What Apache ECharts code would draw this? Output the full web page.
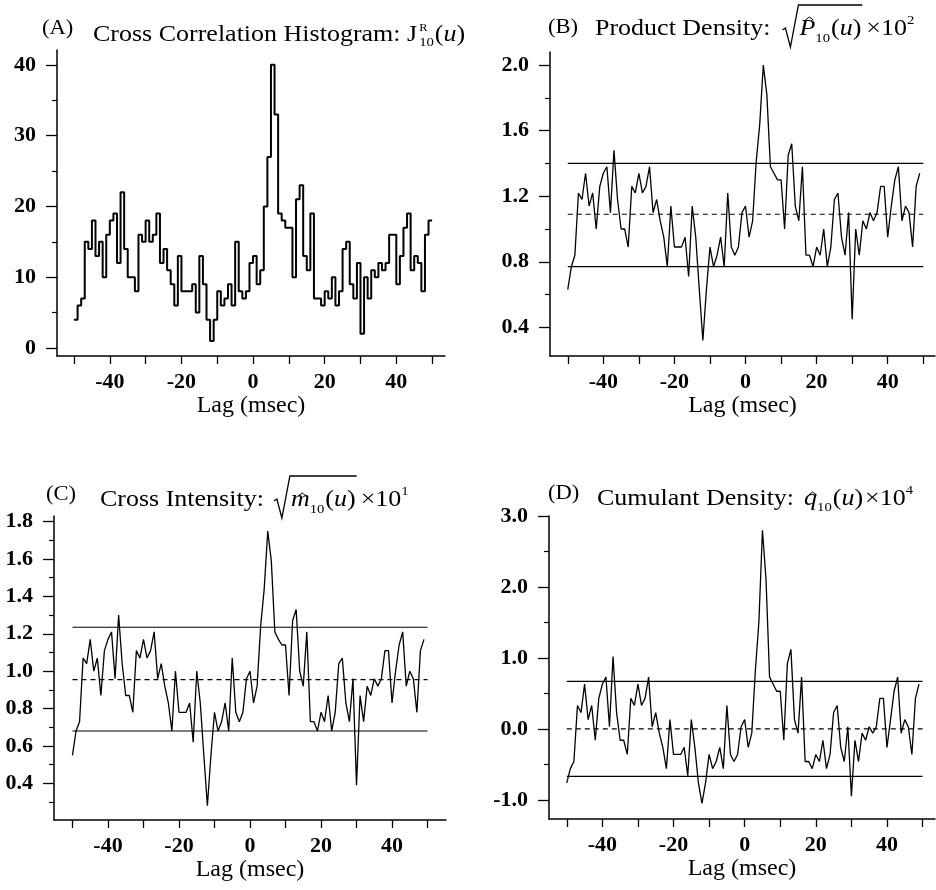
<!DOCTYPE html>
<html>
<head>
<meta charset="utf-8">
<title>Cross correlation panels</title>
<script src="https://cdn.jsdelivr.net/npm/echarts@6/dist/echarts.min.js"></script>
<style>
  html, body { margin: 0; padding: 0; background: #fff; }
  #chart { width: 936px; height: 890px; }
</style>
</head>
<body>
<div id="chart"></div>
<script>
// lag (msec) of each 1 msec bin
var lags = [
  -50,-49,-48,-47,-46,-45,-44,-43,-42,-41,
  -40,-39,-38,-37,-36,-35,-34,-33,-32,-31,
  -30,-29,-28,-27,-26,-25,-24,-23,-22,-21,
  -20,-19,-18,-17,-16,-15,-14,-13,-12,-11,
  -10,-9,-8,-7,-6,-5,-4,-3,-2,-1,
  0,1,2,3,4,5,6,7,8,9,
  10,11,12,13,14,15,16,17,18,19,
  20,21,22,23,24,25,26,27,28,29,
  30,31,32,33,34,35,36,37,38,39,
  40,41,42,43,44,45,46,47,48,49
];

// (A) cross correlation histogram counts
var histCounts = [
  4,6,7,15,14,18,13,15,10,16,
  18,19,12,22,14,10,10,8,16,15,
  18,15,16,19,12,14,11,9,6,13,
  8,8,8,9,5,13,9,4,1,4,
  8,6,7,9,6,15,8,7,8,12,
  13,9,11,20,27,40,33,19,18,17,
  17,10,21,23,13,11,19,7,7,6,
  8,7,10,6,8,14,15,9,7,12,
  2,10,7,11,10,12,11,12,16,16,
  9,13,17,19,11,13,12,8,16,18
];

// (B) product density, sqrt, x10^2
var productDensity = [
  0.63,0.77,0.84,1.22,1.18,1.34,1.14,1.22,1.00,1.26,
  1.34,1.38,1.10,1.48,1.18,1.00,1.00,0.89,1.26,1.22,
  1.34,1.22,1.26,1.38,1.10,1.18,1.05,0.95,0.77,1.14,
  0.89,0.89,0.89,0.95,0.71,1.14,0.95,0.63,0.32,0.63,
  0.89,0.77,0.84,0.95,0.77,1.22,0.89,0.84,0.89,1.10,
  1.14,0.95,1.05,1.41,1.64,2.00,1.82,1.38,1.34,1.30,
  1.30,1.00,1.45,1.52,1.14,1.05,1.38,0.84,0.84,0.77,
  0.89,0.84,1.00,0.77,0.89,1.18,1.22,0.95,0.84,1.10,
  0.45,1.00,0.84,1.05,1.00,1.10,1.05,1.10,1.26,1.26,
  0.95,1.14,1.30,1.38,1.05,1.14,1.10,0.89,1.26,1.34
];

// (C) cross intensity, sqrt, x10
var crossIntensity = [
  0.55,0.68,0.73,1.07,1.04,1.17,1.00,1.07,0.87,1.11,
  1.17,1.21,0.96,1.30,1.04,0.87,0.87,0.78,1.11,1.07,
  1.17,1.07,1.11,1.21,0.96,1.04,0.92,0.83,0.68,1.00,
  0.78,0.78,0.78,0.83,0.62,1.00,0.83,0.55,0.28,0.55,
  0.78,0.68,0.73,0.83,0.68,1.07,0.78,0.73,0.78,0.96,
  1.00,0.83,0.92,1.24,1.44,1.75,1.59,1.21,1.17,1.14,
  1.14,0.87,1.27,1.33,1.00,0.92,1.21,0.73,0.73,0.68,
  0.78,0.73,0.87,0.68,0.78,1.04,1.07,0.83,0.73,0.96,
  0.39,0.87,0.73,0.92,0.87,0.96,0.92,0.96,1.11,1.11,
  0.83,1.00,1.14,1.21,0.92,1.00,0.96,0.78,1.11,1.17
];

// (D) cumulant density, x10^4
var cumulantDensity = [
  -0.76,-0.56,-0.46,0.33,0.23,0.63,0.13,0.33,-0.16,0.43,
  0.63,0.73,0.03,1.02,0.23,-0.16,-0.16,-0.36,0.43,0.33,
  0.63,0.33,0.43,0.73,0.03,0.23,-0.06,-0.26,-0.56,0.13,
  -0.36,-0.36,-0.36,-0.26,-0.66,0.13,-0.26,-0.76,-1.05,-0.76,
  -0.36,-0.56,-0.46,-0.26,-0.56,0.33,-0.36,-0.46,-0.36,0.03,
  0.13,-0.26,-0.06,0.82,1.51,2.80,2.11,0.73,0.63,0.53,
  0.53,-0.16,0.92,1.12,0.13,-0.06,0.73,-0.46,-0.46,-0.56,
  -0.36,-0.46,-0.16,-0.56,-0.36,0.23,0.33,-0.26,-0.46,0.03,
  -0.95,-0.16,-0.46,-0.06,-0.16,0.03,-0.06,0.03,0.43,0.43,
  -0.26,0.13,0.53,0.73,-0.06,0.13,0.03,-0.36,0.43,0.63
];

// confidence bands: upper, mean (dashed), lower
var productLevels = [1.40, 1.09, 0.77];
var intensityLevels = [1.235, 0.955, 0.68];
var cumulantLevels = [0.67, 0.0, -0.67];
var levelSpan = [-50, 50];

// ticks and labels
var xTicks = [-50,-40,-30,-20,-10,0,10,20,30,40,50];
var xLabels = [-40,-20,0,20,40];
var yLabelsA = [0,10,20,30,40];
var yMinorA = [5,15,25,35];
var yLabelsB = [0.4,0.8,1.2,1.6,2.0];
var yMinorB = [0.6,1.0,1.4,1.8];
var yLabelsC = [0.4,0.6,0.8,1.0,1.2,1.4,1.6,1.8];
var yMinorC = [0.3,0.5,0.7,0.9,1.1,1.3,1.5,1.7];
var yLabelsD = [-1.0,0.0,1.0,2.0,3.0];
var yMinorD = [-0.5,0.5,1.5,2.5];

var SERIF = '"Liberation Serif", "Times New Roman", serif';
var SX = 1.13;

var panels = [
  {grid: {left: 57, top: 50, width: 388, height: 306}, x: [-54.75, 53.6], y: [-1.13, 42.1],
   labels: yLabelsA, minor: yMinorA, dec: 0},
  {grid: {left: 550, top: 52, width: 385, height: 304}, x: [-55, 53.3], y: [0.225, 2.08],
   labels: yLabelsB, minor: yMinorB, dec: 1},
  {grid: {left: 54, top: 516, width: 392, height: 304}, x: [-55.2, 55.2], y: [0.204, 1.83],
   labels: yLabelsC, minor: yMinorC, dec: 1},
  {grid: {left: 549, top: 516, width: 386, height: 303}, x: [-55, 53.5], y: [-1.27, 3.0],
   labels: yLabelsD, minor: yMinorD, dec: 1}
];

var grids = [], xAxes = [], yAxes = [];
panels.forEach(function (p, i) {
  grids.push(p.grid);
  xAxes.push({
    type: 'value', gridIndex: i, min: p.x[0], max: p.x[1],
    axisLine: {onZero: false, lineStyle: {color: '#000', width: 1.5}},
    axisTick: {customValues: xTicks, length: 8, lineStyle: {color: '#000', width: 1.3}},
    axisLabel: {customValues: xLabels, margin: 15, color: '#000', fontFamily: SERIF, fontSize: 22, fontWeight: 'bold'},
    splitLine: {show: false},
    name: 'Lag (msec)', nameLocation: 'middle', nameGap: 38,
    nameTextStyle: {color: '#000', fontFamily: SERIF, fontSize: 24}
  });
  yAxes.push({
    type: 'value', gridIndex: i, position: 'left', min: p.y[0], max: p.y[1],
    axisLine: {show: true, onZero: false, lineStyle: {color: '#000', width: 1.5}},
    axisTick: {show: true, customValues: p.labels, length: 11, lineStyle: {color: '#000', width: 1.3}},
    axisLabel: {customValues: p.labels, margin: 21, color: '#000', fontFamily: SERIF, fontSize: 22, fontWeight: 'bold',
      formatter: function (v) { return v.toFixed(p.dec); }},
    splitLine: {show: false}
  });
  yAxes.push({
    type: 'value', gridIndex: i, position: 'left', min: p.y[0], max: p.y[1],
    axisLine: {show: false, onZero: false},
    axisTick: {show: true, customValues: p.minor, length: 5, lineStyle: {color: '#000', width: 1.2}},
    axisLabel: {show: false},
    splitLine: {show: false}
  });
});

function pairs(xs, ys) {
  return xs.map(function (x, i) { return [x, ys[i]]; });
}

// histogram outline: each bin drawn from its lag to the next
var histData = pairs(lags, histCounts);
histData.push([lags[lags.length - 1] + 1, histCounts[histCounts.length - 1]]);

var series = [{
  type: 'line', xAxisIndex: 0, yAxisIndex: 0, step: 'end', data: histData,
  showSymbol: false, lineStyle: {color: '#000', width: 2}
}];

function curve(i, values) {
  series.push({
    type: 'line', xAxisIndex: i, yAxisIndex: 2 * i, data: pairs(lags, values),
    showSymbol: false, lineStyle: {color: '#000', width: 1.3}
  });
}
function bands(i, levels) {
  levels.forEach(function (v, k) {
    series.push({
      type: 'line', xAxisIndex: i, yAxisIndex: 2 * i, showSymbol: false,
      data: [[levelSpan[0], v], [levelSpan[1], v]],
      lineStyle: {color: '#000', width: 1.2, type: k === 1 ? [5, 4] : 'solid'}
    });
  });
}
curve(1, productDensity); bands(1, productLevels);
curve(2, crossIntensity); bands(2, intensityLevels);
curve(3, cumulantDensity); bands(3, cumulantLevels);

// ---- titles (text pieces laid out left to right) ----
var ctx = document.createElement('canvas').getContext('2d');
function fontStr(p) { return (p.it ? 'italic ' : '') + p.s + 'px ' + SERIF; }

function titleRow(x0, base, parts) {
  var els = [], x = x0, sq = null;
  parts.forEach(function (p) {
    x += (p.g || 0);
    if (p.sqrt === 'open') { sq = x; x += 17; return; }
    if (p.sqrt === 'close') {
      els.push({type: 'polyline', silent: true,
        shape: {points: [[sq, base - 7], [sq + 3, base - 9], [sq + 8, base + 10], [sq + 16, base - 32], [x + 1, base - 32]]},
        style: {stroke: '#000', lineWidth: 1.3, fill: null}});
      return;
    }
    var f = fontStr(p);
    ctx.font = f;
    var wd = ctx.measureText(p.t).width * SX;
    var yb = base + (p.dy || 0);
    els.push({type: 'text', x: x, y: yb - 0.34 * p.s, scaleX: SX, silent: true,
      style: {text: p.t, font: f, fill: '#000', align: 'left', verticalAlign: 'middle',
        textAlign: 'left', textVerticalAlign: 'middle'}});
    if (p.hat) {
      var cx = x + wd / 2 + 2, hy = yb - p.hat;
      els.push({type: 'polyline', silent: true,
        shape: {points: [[cx - 4, hy + 3], [cx, hy], [cx + 4, hy + 3]]},
        style: {stroke: '#000', lineWidth: 1, fill: null}});
    }
    if (!p.keep) x += wd;
  });
  return els;
}

var U = [{t: '(', s: 23, g: 1}, {t: 'u', s: 23, it: true}, {t: ')', s: 23}];

var graphics = [].concat(
  titleRow(42, 36, [{t: '(A)', s: 20}]),
  titleRow(93, 43, [{t: 'Cross Correlation Histogram: J', s: 23},
    {t: 'R', s: 11, dy: -11, g: 2, keep: true}, {t: '10', s: 13, dy: 4, g: 0}].concat(U)),
  titleRow(548, 35, [{t: '(B)', s: 20}]),
  titleRow(595, 37, [{t: 'Product Density:', s: 23}, {sqrt: 'open', g: 12},
    {t: 'P', s: 23, it: true, hat: 20}, {t: '10', s: 13, dy: 6}].concat(U,
    [{sqrt: 'close'}, {t: '\u00d710', s: 23, g: 5}, {t: '2', s: 13, dy: -12}])),
  titleRow(46, 502, [{t: '(C)', s: 20}]),
  titleRow(100, 508, [{t: 'Cross Intensity:', s: 23}, {sqrt: 'open', g: 10},
    {t: 'm', s: 23, it: true, hat: 15}, {t: '10', s: 13, dy: 6}].concat(U,
    [{sqrt: 'close'}, {t: '\u00d710', s: 23, g: 5}, {t: '1', s: 13, dy: -12}])),
  titleRow(548, 501, [{t: '(D)', s: 20}]),
  titleRow(597, 507, [{t: 'Cumulant Density:', s: 23},
    {t: 'q', s: 23, it: true, hat: 15, g: 10}, {t: '10', s: 13, dy: 5}].concat(U,
    [{t: '\u00d710', s: 23, g: 2}, {t: '4', s: 13, dy: -12}]))
);

var chart = echarts.init(document.getElementById('chart'));
chart.setOption({
  animation: false,
  backgroundColor: '#fff',
  grid: grids,
  xAxis: xAxes,
  yAxis: yAxes,
  series: series,
  graphic: {elements: graphics}
});
</script>
</body>
</html>
